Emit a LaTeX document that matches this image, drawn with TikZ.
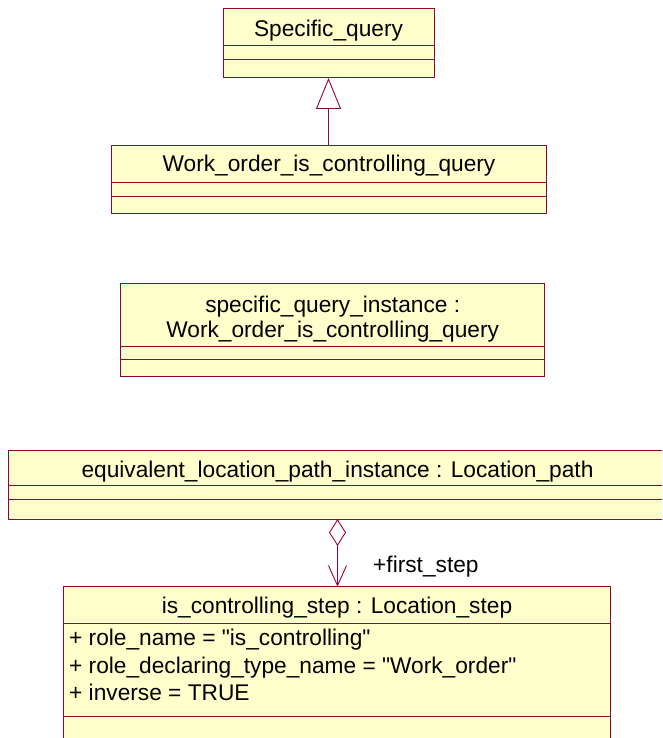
\documentclass[tikz,border=0pt]{standalone}
\usepackage{fontspec}
\setmainfont{Liberation Sans}
\usetikzlibrary{arrows.meta}
\definecolor{umlborder}{RGB}{153,0,51}
\definecolor{umlfill}{RGB}{255,255,204}
\newcommand{\dq}{\textquotedbl}
\begin{document}
\begin{tikzpicture}[x=1pt,y=-1pt,
 umlbox/.style={draw=umlborder, fill=umlfill, line width=1pt, anchor=north west, inner sep=0pt, outer sep=0pt},
 umltext/.style={font=\fontsize{22.7}{25}\selectfont, inner sep=0pt, align=center},
 attr/.style={font=\fontsize{22.7}{25}\selectfont, inner sep=0pt, anchor=west},
 compline/.style={draw=umlborder, line width=1pt},
 conn/.style={draw=umlborder, line width=0.9pt}]
\useasboundingbox (0,0) rectangle (662,738);
\clip (0,0) rectangle (662,738);
% Specific_query
\node[umlbox, minimum width=211pt, minimum height=69pt] (sq) at (223,9) {};
\node[umltext] (sqt) at (328.5,31) {Specific\_query};
\draw[compline] (223,46) -- (434,46);
\draw[compline] (223,59.3) -- (434,59.3);
% Work_order_is_controlling_query
\node[umlbox, minimum width=434.6pt, minimum height=67.6pt] (wq) at (111.7,145.7) {};
\node[umltext] (wqt) at (329,165.5) {Work\_order\_is\_controlling\_query};
\draw[compline] (111.7,182.7) -- (546.3,182.7);
\draw[compline] (111.7,196.7) -- (546.3,196.7);
% specific_query_instance
\node[umlbox, minimum width=424pt, minimum height=93.4pt] (sqi) at (120.7,283.3) {};
\node[umltext] (sqit) at (332.7,319.5) {specific\_query\_instance :\\Work\_order\_is\_controlling\_query};
\draw[compline] (120.7,346) -- (544.7,346);
\draw[compline] (120.7,359.3) -- (544.7,359.3);
% equivalent_location_path_instance
\node[umlbox, minimum width=659pt, minimum height=69pt] (elp) at (8,450) {};
\node[umltext] (elpt) at (337.5,472) {equivalent\_location\_path\_instance : Location\_path};
\draw[compline] (8,485) -- (667,485);
\draw[compline] (8,499) -- (667,499);
% is_controlling_step
\node[umlbox, minimum width=547pt, minimum height=200pt] (ics) at (63.5,586.7) {};
\node[umltext] (icst) at (337,608) {is\_controlling\_step : Location\_step};
\draw[compline] (63.5,623.3) -- (610.5,623.3);
\draw[compline] (63.5,716.7) -- (610.5,716.7);
\node[attr] (a1) at (69,640) {+ role\_name = \dq is\_controlling\dq};
\node[attr] (a2) at (69,668) {+ role\_declaring\_type\_name = \dq Work\_order\dq};
\node[attr] (a3) at (69,692) {+ inverse = TRUE};
% connectors
\draw[conn, -{Triangle[open,length=31pt,width=25pt]}] (sq.south |- wq.north) -- (sq.south);
\draw[conn, {Diamond[open,length=27pt,width=17pt]}-{Straight Barb[length=20pt,width=18pt]}] (elp.south) -- (elp.south |- ics.north);
\node[attr] (fs) at (373,567) {+first\_step};
\end{tikzpicture}
\end{document}
